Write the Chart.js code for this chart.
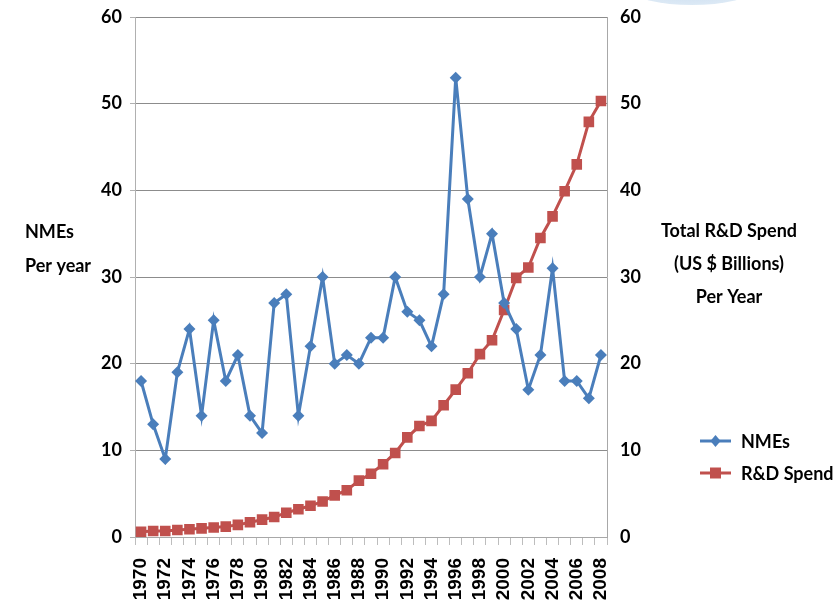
<!DOCTYPE html>
<html>
<head>
<meta charset="utf-8">
<script src="https://cdn.jsdelivr.net/npm/chart.js@4.4.1/dist/chart.umd.min.js"></script>
<style>
  html, body { margin: 0; padding: 0; background: #fff; }
  #wrap { position: relative; width: 833px; height: 614px; overflow: hidden; background: #fff; }
  #halo { position: absolute; left: 633px; top: -24px; width: 118px; height: 29px; border-radius: 50%;
          background: radial-gradient(ellipse at center, #c9dcef 0%, #dce9f5 70%, #eef4fa 100%); }
  canvas { position: absolute; left: 0; top: 0; }
</style>
</head>
<body>
<div id="wrap">
  <div id="halo"></div>
  <canvas id="chart" width="833" height="614"></canvas>
</div>
<script>
// Categories: one per year
const years = ['1970','1971','1972','1973','1974','1975','1976','1977','1978','1979',
               '1980','1981','1982','1983','1984','1985','1986','1987','1988','1989',
               '1990','1991','1992','1993','1994','1995','1996','1997','1998','1999',
               '2000','2001','2002','2003','2004','2005','2006','2007','2008'];

// New molecular entities approved per year
const nmes = [18, 13, 9, 19, 24, 14, 25, 18, 21, 14,
              12, 27, 28, 14, 22, 30, 20, 21, 20, 23,
              23, 30, 26, 25, 22, 28, 53, 39, 30, 35,
              27, 24, 17, 21, 31, 18, 18, 16, 21];

// Total R&D spend per year, US $ billions
const rdSpend = [0.6, 0.7, 0.7, 0.8, 0.9, 1.0, 1.1, 1.2, 1.4, 1.7,
                 2.0, 2.3, 2.8, 3.2, 3.6, 4.1, 4.8, 5.4, 6.5, 7.3,
                 8.4, 9.7, 11.5, 12.8, 13.4, 15.2, 17.0, 18.9, 21.1, 22.7,
                 26.2, 29.9, 31.1, 34.5, 37.0, 39.9, 43.0, 47.9, 50.3];

// Value axis ticks (both axes share the same range)
const axisTicks = [0, 10, 20, 30, 40, 50, 60];

const leftTitle = ['NMEs', 'Per year'];
const rightTitle = ['Total R&D Spend', '(US $ Billions)', 'Per Year'];

const FONT = 'Lato, "DejaVu Sans Condensed", sans-serif';
const BLUE = '#4a7ebb';
const RED = '#c0504d';

// Horizontal axis titles and a compact legend, drawn after the chart
const decorations = {
  id: 'decorations',
  afterDraw(chart) {
    const ctx = chart.ctx;
    ctx.save();
    ctx.fillStyle = '#000';
    ctx.font = 'bold 18px ' + FONT;
    ctx.textBaseline = 'middle';

    // left title
    ctx.textAlign = 'left';
    leftTitle.forEach((t, i) => ctx.fillText(t, 25, 232 + i * 34));

    // right title
    ctx.textAlign = 'center';
    rightTitle.forEach((t, i) => ctx.fillText(t, 729, 231 + i * 33));

    // legend
    const items = chart.data.datasets;
    items.forEach((ds, i) => {
      const y = 441 + i * 32;
      const x0 = 700, x1 = 731, cx = (x0 + x1) / 2;
      ctx.strokeStyle = ds.borderColor;
      ctx.lineWidth = 3;
      ctx.beginPath();
      ctx.moveTo(x0, y);
      ctx.lineTo(x1, y);
      ctx.stroke();
      ctx.fillStyle = ds.pointBackgroundColor;
      ctx.beginPath();
      if (ds.pointStyle === 'rectRot') {
        const r = 6;
        ctx.moveTo(cx, y - r); ctx.lineTo(cx + r * 0.85, y);
        ctx.lineTo(cx, y + r); ctx.lineTo(cx - r * 0.85, y);
        ctx.closePath();
      } else {
        ctx.rect(cx - 5.5, y - 5.5, 11, 11);
      }
      ctx.fill();
      ctx.fillStyle = '#000';
      ctx.textAlign = 'left';
      ctx.font = 'bold 18px ' + FONT;
      ctx.fillText(ds.label, 741, y + 1);
    });
    ctx.restore();
  }
};

function fixVertical(width) {
  return function (scale) {
    scale.width = width;
    scale.paddingTop = 0;
    scale.paddingBottom = 0;
  };
}

new Chart(document.getElementById('chart'), {
  type: 'line',
  data: {
    labels: years,
    datasets: [
      {
        label: 'NMEs',
        data: nmes,
        yAxisID: 'y',
        borderColor: BLUE,
        backgroundColor: BLUE,
        pointBackgroundColor: BLUE,
        pointBorderColor: BLUE,
        borderWidth: 3,
        pointStyle: 'rectRot',
        pointRadius: 6,
        pointBorderWidth: 0,
        tension: 0,
        order: 1
      },
      {
        label: 'R&D Spend',
        data: rdSpend,
        yAxisID: 'y1',
        borderColor: RED,
        backgroundColor: RED,
        pointBackgroundColor: RED,
        pointBorderColor: RED,
        borderWidth: 3,
        pointStyle: 'rect',
        pointRadius: 7.5,
        pointBorderWidth: 0,
        tension: 0,
        order: 2
      }
    ]
  },
  options: {
    responsive: false,
    animation: false,
    layout: { padding: { top: 17, left: 0, right: 0, bottom: 0 } },
    plugins: {
      legend: { display: false },
      tooltip: { enabled: false }
    },
    scales: {
      x: {
        type: 'category',
        offset: true,
        afterFit(scale) { scale.height = 77; scale.paddingLeft = 0; scale.paddingRight = 0; },
        grid: { offset: true, drawOnChartArea: false, tickLength: 8, color: '#bdbdbd' },
        border: { display: true, color: '#a8a8a8' },
        ticks: {
          autoSkip: false,
          minRotation: 90,
          maxRotation: 90,
          padding: 13,
          color: '#000',
          font: { family: '"Liberation Sans", Arial, sans-serif', size: 19, weight: 'bold' },
          callback(value, index) {
            const lab = this.getLabelForValue(value);
            return index % 2 === 0 ? lab : '';
          }
        }
      },
      y: {
        position: 'left',
        min: axisTicks[0],
        max: axisTicks[axisTicks.length - 1],
        afterFit: fixVertical(135),
        afterBuildTicks(scale) { scale.ticks = axisTicks.map(v => ({ value: v })); },
        grid: { color: '#8c8c8c', lineWidth: 1, tickLength: 5, tickColor: '#b0b0b0' },
        border: { display: true, color: '#b0b0b0' },
        ticks: {
          padding: 8,
          color: '#000',
          font: { family: FONT, size: 18, weight: 'bold' }
        }
      },
      y1: {
        position: 'right',
        min: axisTicks[0],
        max: axisTicks[axisTicks.length - 1],
        afterFit: fixVertical(226),
        afterBuildTicks(scale) { scale.ticks = axisTicks.map(v => ({ value: v })); },
        grid: { drawOnChartArea: false, drawTicks: false },
        border: { display: true, color: '#a8a8a8' },
        ticks: {
          padding: 13,
          color: '#000',
          font: { family: FONT, size: 18, weight: 'bold' }
        }
      }
    }
  },
  plugins: [decorations]
});
</script>
</body>
</html>
